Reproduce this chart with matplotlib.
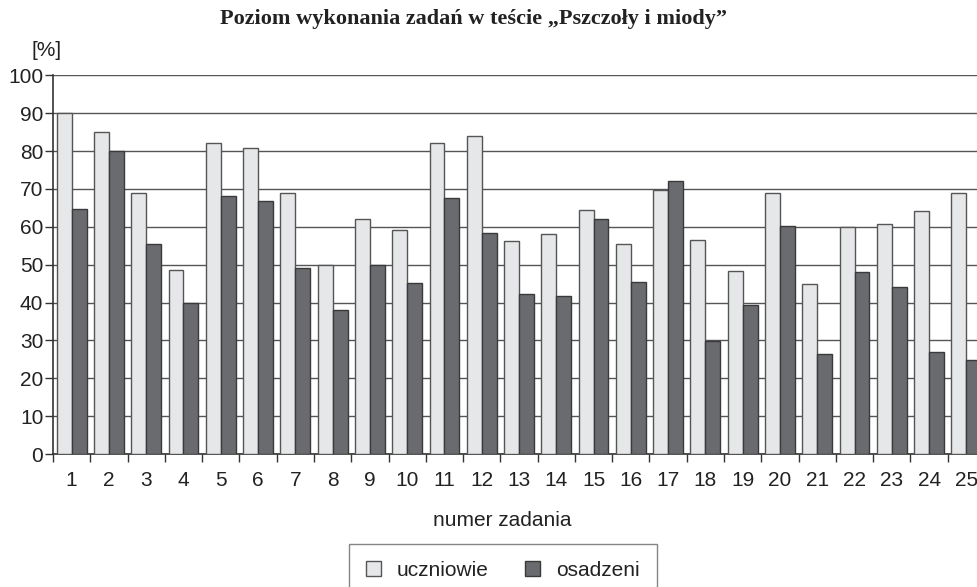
import matplotlib
matplotlib.use("Agg")
import matplotlib.pyplot as plt
import numpy as np

tasks = [str(i) for i in range(1, 26)]
uczniowie = [90.0, 84.9, 68.8, 48.7, 82.2, 80.9, 68.8, 50.0, 62.1, 59.2,
             82.0, 83.9, 56.2, 58.1, 64.3, 55.4, 69.8, 56.4, 48.2, 68.8,
             45.0, 59.9, 60.7, 64.2, 69.0]
osadzeni = [64.6, 79.9, 55.4, 40.0, 68.1, 66.7, 49.1, 37.9, 50.0, 45.2,
            67.7, 58.3, 42.2, 41.8, 62.1, 45.3, 72.0, 29.9, 39.3, 60.1,
            26.5, 48.1, 44.1, 26.9, 24.7]

W, H = 977, 587
fig = plt.figure(figsize=(W / 100, H / 100), dpi=100)
ax = fig.add_axes([53 / W, 1 - 454 / H, 932 / W, (454 - 75.3) / H])

x = np.arange(1, 26)
bw = 0.4
light = "#e6e7e9"
dark = "#6a6b6f"
ax.bar(x - bw / 2, uczniowie, width=bw, color=light, edgecolor="#555555",
       linewidth=1.0, zorder=3, label="uczniowie")
ax.bar(x + bw / 2, osadzeni, width=bw, color=dark, edgecolor="#3a3a3a",
       linewidth=1.0, zorder=3, label="osadzeni")

ax.set_xlim(0.5, 25.5)
ax.set_ylim(0, 100)
ax.set_yticks(np.arange(0, 101, 10))
ax.yaxis.grid(True, color="#555555", linewidth=1.0, zorder=0)
ax.set_axisbelow(True)

ax.set_xticks(np.arange(0.5, 25.6, 1.0))
ax.set_xticklabels([])
ax.set_xticks(x, minor=True)
ax.set_xticklabels(tasks, minor=True)
ax.tick_params(axis="x", which="major", length=6, width=1, color="#333333")
ax.tick_params(axis="x", which="minor", length=0, pad=12, labelsize=15,
               labelcolor="#222222")
ax.tick_params(axis="y", length=6, width=1, color="#333333", labelsize=15,
               labelcolor="#222222", pad=1)
for lab in ax.get_xticklabels(minor=True) + ax.get_yticklabels():
    lab.set_family("Liberation Sans")

for s in ["top", "right"]:
    ax.spines[s].set_visible(False)
for s in ["left", "bottom"]:
    ax.spines[s].set_color("#333333")
    ax.spines[s].set_linewidth(1.2)

fig.text(474 / W, 1 - 19 / H, "Poziom wykonania zadań w teście „Pszczoły i miody”",
         ha="center", va="center", fontsize=16, fontweight="bold",
         family="Liberation Serif", color="#222222")
fig.text(47 / W, 1 - 50 / H, "[%]", ha="center", va="center", fontsize=15,
         family="Liberation Sans", color="#222222")
fig.text(502 / W, 1 - 521 / H, "numer zadania", ha="center", va="center",
         fontsize=15, family="Liberation Sans", color="#222222")

handles, labels = ax.get_legend_handles_labels()
leg = fig.legend(handles, labels, loc="upper center", bbox_to_anchor=(503 / W, 1 - 544 / H),
                 ncol=2, frameon=True, fancybox=False,
                 prop={"family": "Liberation Sans", "size": 15},
                 handlelength=0.72, handleheight=0.72, handletextpad=0.77,
                 columnspacing=1.75, borderpad=0.8, borderaxespad=0,
                 edgecolor="#666666")
leg.get_frame().set_linewidth(1.0)
for t in leg.get_texts():
    t.set_color("#222222")

fig.savefig("out.png", dpi=100)
